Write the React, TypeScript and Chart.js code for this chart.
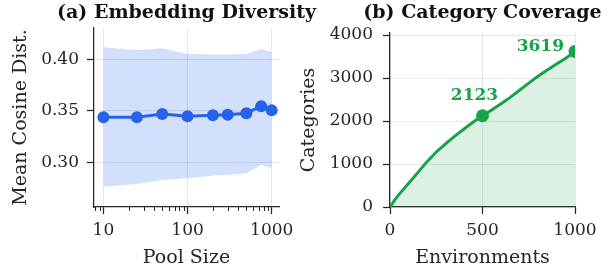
import React, { useEffect, useRef } from "react";
import { Chart, registerables } from "chart.js";

Chart.register(...registerables);

// ---------- Data: (a) Embedding Diversity ----------
const poolSizes = [10, 25, 50, 100, 200, 300, 500, 750, 1000];
const meanDist = [0.3437, 0.3437, 0.3469, 0.3447, 0.3456, 0.3462, 0.3476, 0.3544, 0.3505];
const upperDist = [0.4117, 0.409, 0.4107, 0.4051, 0.4045, 0.4047, 0.4051, 0.41, 0.4068];
const lowerDist = [0.2763, 0.2789, 0.2828, 0.2845, 0.287, 0.2877, 0.2893, 0.2974, 0.2942];
const yTicksA = [0.3, 0.35, 0.4];
const xMajorA = [10, 100, 1000];
const xMinorA = [8, 9, 20, 30, 40, 50, 60, 70, 80, 90, 200, 300, 400, 500, 600, 700, 800, 900];

// ---------- Data: (b) Category Coverage ----------
const environments = [0, 25, 50, 100, 150, 200, 250, 300, 350, 400, 450, 500, 550, 600, 650, 700, 750, 800, 850, 900, 950, 1000];
const categories = [0, 160, 300, 545, 800, 1055, 1280, 1470, 1650, 1815, 1975, 2123, 2255, 2400, 2550, 2715, 2880, 3040, 3185, 3325, 3460, 3619];
const highlightEnvs = [500, 1000];
const highlightCats = [2123, 3619];
const yTicksB = [0, 1000, 2000, 3000, 4000];
const xTicksB = [0, 500, 1000];

const FONT = "'DejaVu Serif', serif";
const AXIS = "#262626";
const GRID = "rgba(0,0,0,0.09)";
const BLUE = "#2563eb";
const GREEN = "#16a34a";
const TICK_SIZE = 17;
const LABEL_SIZE = 19;

Chart.defaults.font.family = FONT;
Chart.defaults.color = AXIS;

const titlePlugin = (text: string) => ({
  id: "panelTitle",
  afterDraw(chart: any) {
    const { ctx, chartArea } = chart;
    ctx.save();
    ctx.font = `bold 19px ${FONT}`;
    ctx.fillStyle = "#111";
    ctx.textAlign = "center";
    ctx.textBaseline = "middle";
    ctx.fillText(text, (chartArea.left + chartArea.right) / 2, 13);
    ctx.restore();
  },
});

const minorTickPlugin = {
  id: "minorTicks",
  afterDraw(chart: any) {
    const { ctx, chartArea } = chart;
    const xs = chart.scales.x;
    ctx.save();
    ctx.strokeStyle = AXIS;
    ctx.lineWidth = 1;
    xMinorA.forEach((v) => {
      const px = Math.round(xs.getPixelForValue(v)) + 0.5;
      ctx.beginPath();
      ctx.moveTo(px, chartArea.bottom);
      ctx.lineTo(px, chartArea.bottom + 4);
      ctx.stroke();
    });
    ctx.restore();
  },
};

const annotationPlugin = {
  id: "valueLabels",
  afterDatasetsDraw(chart: any) {
    const { ctx } = chart;
    const xs = chart.scales.x;
    const ys = chart.scales.y;
    const offsets = [
      [-8, -20, "center"],
      [-11, -5, "right"],
    ];
    ctx.save();
    ctx.font = `bold 17px ${FONT}`;
    ctx.fillStyle = GREEN;
    ctx.textBaseline = "middle";
    highlightEnvs.forEach((e, i) => {
      const px = xs.getPixelForValue(e);
      const py = ys.getPixelForValue(highlightCats[i]);
      const [dx, dy, align] = offsets[i] as [number, number, CanvasTextAlign];
      ctx.textAlign = align;
      ctx.fillText(String(highlightCats[i]), px + dx, py + dy);
    });
    ctx.restore();
  },
};

function makeChartA(canvas: HTMLCanvasElement) {
  return new Chart(canvas, {
    type: "line",
    data: {
      datasets: [
        {
          data: poolSizes.map((x, i) => ({ x, y: meanDist[i] })),
          borderColor: BLUE,
          backgroundColor: BLUE,
          borderWidth: 3,
          pointRadius: 6,
          pointBackgroundColor: BLUE,
          pointBorderWidth: 0,
          fill: false,
        },
        {
          data: poolSizes.map((x, i) => ({ x, y: upperDist[i] })),
          borderWidth: 0,
          borderColor: "transparent",
          pointRadius: 0,
          backgroundColor: "rgba(37,99,235,0.2)",
          fill: "+1",
        },
        {
          data: poolSizes.map((x, i) => ({ x, y: lowerDist[i] })),
          borderWidth: 0,
          borderColor: "transparent",
          pointRadius: 0,
          fill: false,
        },
      ],
    },
    options: {
      responsive: false,
      animation: false,
      layout: { padding: { left: 0, right: 334, top: 28, bottom: 0 } },
      plugins: { legend: { display: false }, tooltip: { enabled: false } },
      scales: {
        x: {
          type: "logarithmic",
          min: 7.73,
          max: 1221,
          afterBuildTicks: (scale: any) => {
            const vals = [...xMinorA, ...xMajorA].sort((a, b) => a - b);
            scale.ticks = vals.map((v) => ({ value: v, major: xMajorA.includes(v) }));
          },
          afterFit: (scale: any) => {
            scale.height = 66;
          },
          ticks: {
            autoSkip: false,
            maxRotation: 0,
            padding: 6,
            font: { size: TICK_SIZE },
            color: AXIS,
            callback: (value: any) => (xMajorA.includes(Number(value)) ? String(value) : ""),
          },
          grid: {
            color: (ctx: any) => (ctx.tick && ctx.tick.major ? GRID : "transparent"),
            tickColor: (ctx: any) => (ctx.tick && ctx.tick.major ? AXIS : "transparent"),
            tickLength: 7,
            tickWidth: 1.25,
          },
          border: { color: AXIS, width: 1.25 },
          title: { display: true, text: "Pool Size", font: { size: LABEL_SIZE }, color: AXIS, padding: { top: 0, bottom: 4 } },
        },
        y: {
          type: "linear",
          min: 0.2566,
          max: 0.4303,
          afterBuildTicks: (scale: any) => {
            scale.ticks = yTicksA.map((v) => ({ value: v }));
          },
          afterFit: (scale: any) => {
            scale.width = 94;
          },
          ticks: {
            padding: 8,
            font: { size: TICK_SIZE },
            color: AXIS,
            callback: (value: any) => Number(value).toFixed(2),
          },
          grid: { color: GRID, tickColor: AXIS, tickLength: 7, tickWidth: 1.25 },
          border: { color: AXIS, width: 1.25 },
          title: { display: true, text: "Mean Cosine Dist.", font: { size: LABEL_SIZE }, color: AXIS, padding: { top: 10, bottom: 0 } },
        },
      },
    },
    plugins: [titlePlugin("(a) Embedding Diversity"), minorTickPlugin],
  } as any);
}

function makeChartB(canvas: HTMLCanvasElement) {
  return new Chart(canvas, {
    type: "line",
    data: {
      datasets: [
        {
          data: highlightEnvs.map((x, i) => ({ x, y: highlightCats[i] })),
          showLine: false,
          pointRadius: 6.5,
          pointBackgroundColor: GREEN,
          pointBorderWidth: 0,
          borderColor: GREEN,
          fill: false,
        },
        {
          data: environments.map((x, i) => ({ x, y: categories[i] })),
          borderColor: GREEN,
          borderWidth: 3,
          pointRadius: 0,
          backgroundColor: "rgba(22,163,74,0.15)",
          fill: "origin",
        },
      ],
    },
    options: {
      responsive: false,
      animation: false,
      layout: { padding: { left: 288, right: 38, top: 33, bottom: 0 } },
      plugins: { legend: { display: false }, tooltip: { enabled: false } },
      scales: {
        x: {
          type: "linear",
          min: 0,
          max: 1000,
          afterBuildTicks: (scale: any) => {
            scale.ticks = xTicksB.map((v) => ({ value: v }));
          },
          afterFit: (scale: any) => {
            scale.height = 66;
          },
          ticks: { maxRotation: 0, padding: 6, font: { size: TICK_SIZE }, color: AXIS, callback: (v: any) => String(v) },
          grid: { color: GRID, tickColor: AXIS, tickLength: 7, tickWidth: 1.25 },
          border: { color: AXIS, width: 1.25 },
          title: { display: true, text: "Environments", font: { size: LABEL_SIZE }, color: AXIS, padding: { top: 0, bottom: 4 } },
        },
        y: {
          type: "linear",
          min: 0,
          max: 4047,
          afterBuildTicks: (scale: any) => {
            scale.ticks = yTicksB.map((v) => ({ value: v }));
          },
          afterFit: (scale: any) => {
            scale.width = 102;
          },
          ticks: { padding: 10, font: { size: TICK_SIZE }, color: AXIS, callback: (v: any) => String(v) },
          grid: { color: GRID, tickColor: AXIS, tickLength: 7, tickWidth: 1.25 },
          border: { color: AXIS, width: 1.25 },
          title: { display: true, text: "Categories", font: { size: LABEL_SIZE }, color: AXIS, padding: { top: 10, bottom: 0 } },
        },
      },
    },
    plugins: [titlePlugin("(b) Category Coverage"), annotationPlugin],
  } as any);
}

export default function App() {
  const refA = useRef<HTMLCanvasElement>(null);
  const refB = useRef<HTMLCanvasElement>(null);

  useEffect(() => {
    const a = makeChartA(refA.current!);
    const b = makeChartB(refB.current!);
    return () => {
      a.destroy();
      b.destroy();
    };
  }, []);

  const canvasStyle: React.CSSProperties = { position: "absolute", left: 0, top: 0, width: 613, height: 273 };
  return (
    <div style={{ position: "fixed", left: 0, top: 0, width: 613, height: 273, background: "#fff" }}>
      <canvas ref={refA} width={613} height={273} style={canvasStyle} />
      <canvas ref={refB} width={613} height={273} style={canvasStyle} />
    </div>
  );
}
